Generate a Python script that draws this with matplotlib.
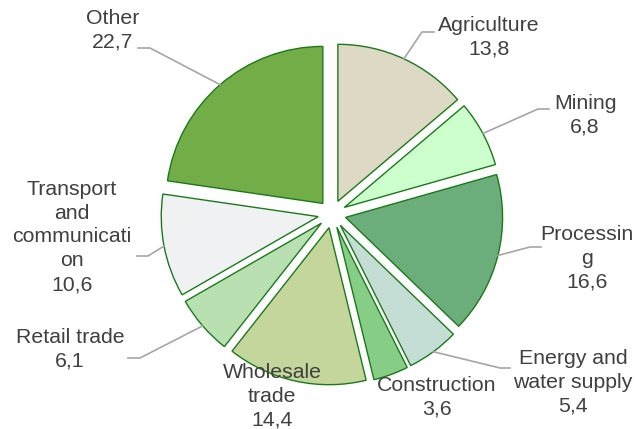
import numpy as np
import matplotlib
matplotlib.use("Agg")
import matplotlib.pyplot as plt

plt.rcParams['font.family'] = ['Liberation Sans', 'DejaVu Sans']

# data (shares, %), clockwise from 12 o'clock
categories = ["Agriculture", "Mining", "Processing", "Energy and water supply",
              "Construction", "Wholesale trade", "Retail trade",
              "Transport and communication", "Other"]
values = [13.8, 6.8, 16.6, 5.4, 3.6, 14.4, 6.1, 10.6, 22.7]
# label text as wrapped in the original
label_names = ["Agriculture", "Mining", "Processin\ng", "Energy and\nwater supply",
               "Construction", "Wholesale\ntrade", "Retail trade",
               "Transport\nand\ncommunicati\non", "Other"]

colors = ["#DDD9C4", "#CCFFCC", "#6BAE7B", "#C4DDD5", "#86CE86",
          "#C4D69C", "#B8E0B1", "#F0F1F3", "#72AD48"]

# layout in pixels: pie centre, radius
W, H = 635, 429
CX, CY, R = 332, 214, 157


def px(x, y):
    return (x - CX) / R, (CY - y) / R


# label block centres (px) and leader elbow / end (px), None = no leader
label_pos = [(489, 37), (585, 115), (587, 258), (573, 382), (437, 397),
             (272, 396), (70, 349), (72, 237), (113, 30)]
leaders = [((422, 32), (434, 32)), ((538, 109), (549, 109)),
           ((530, 247), (541, 247)), ((500, 368), (510, 368)), None,
           None, ((140, 358), (128, 358)), ((148, 256), (137, 256)),
           ((150, 48), (138, 48))]

fig = plt.figure(figsize=(W / 100, H / 100), dpi=100)
ax = fig.add_axes([0, 0, 1, 1])

wedges, _ = ax.pie(values, colors=colors, startangle=90, counterclock=False,
                   explode=[14 / R] * len(values),
                   wedgeprops=dict(edgecolor="#1A7A1A", linewidth=1.0))

for i, w in enumerate(wedges):
    name = label_names[i]
    txt = name + "\n" + f"{values[i]:.1f}".replace(".", ",")
    lx, ly = px(*label_pos[i])
    ax.text(lx, ly, txt, ha="center", va="center", fontsize=15.3,
            color="#404040", linespacing=1.32, zorder=5)
    if leaders[i] is not None:
        mid = np.deg2rad((w.theta1 + w.theta2) / 2)
        sx = w.center[0] + w.r * np.cos(mid)
        sy = w.center[1] + w.r * np.sin(mid)
        ex, ey = px(*leaders[i][0])
        fx, fy = px(*leaders[i][1])
        ax.plot([sx, ex, fx], [sy, ey, fy], color="#A6A6A6", lw=1.2,
                zorder=1)

ax.set_xlim(-CX / R, (W - CX) / R)
ax.set_ylim((CY - H) / R, CY / R)
ax.set_aspect("equal")
ax.axis("off")

fig.savefig("out.png", dpi=100)
